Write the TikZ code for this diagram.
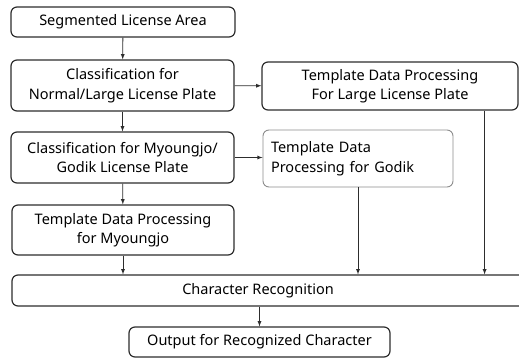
\documentclass[tikz,border=0pt]{standalone}
\usepackage{fontspec}
\setmainfont{Noto Sans}
\usetikzlibrary{arrows}
\usetikzlibrary{calc}
\definecolor{line1}{RGB}{45, 45, 45}
\definecolor{gray1}{RGB}{140, 140, 140}

\begin{document}
\begin{tikzpicture}[x=1pt, y=-1pt, line width =1.2pt, >=latex,
  box/.style={draw=line1, rounded corners=6pt, align=center, inner sep=0pt,
    font=\fontsize{14.5}{19.5}\selectfont},
  link/.style={draw=line1, line width=0.8pt, ->}]
  \useasboundingbox (0,0) rectangle (519,358);
  \clip (0,0) rectangle (519,358);
  \node[box, minimum width=224pt, minimum height=30pt] (seg) at (123,22) {Segmented License Area};
  \node[box, minimum width=223pt, minimum height=51pt] (cls1) at (122.5,85.5) {Classification for\\Normal/Large License Plate};
  \node[box, minimum width=223pt, minimum height=51pt] (cls2) at (122.5,157.5) {Classification for Myoungjo/\\Godik License Plate};
  \node[box, minimum width=222pt, minimum height=50pt] (tmj) at (123,230) {Template Data Processing\\for Myoungjo};

  \node[box, minimum width=256pt, minimum height=48pt] (large) at (390,86) {Template Data Processing\\For Large License Plate};
  \node[box, draw=gray1, line width=0.9pt, align=left, text width=174pt, minimum width=190pt, minimum height=57pt] (godik) at (358,158.5) {Template Data\\Processing for Godik};

  \node[box, minimum width=528pt, minimum height=31pt] (cr) at (276,290.5) {\hspace*{-36pt}Character Recognition};
  \node[box, minimum width=261pt, minimum height=30pt] (out) at (259.5,342) {Output for Recognized Character};

  \foreach \from/\to in {seg/cls1,cls1/cls2,cls2/tmj}
   \draw[link] (\from) -- (\to);
  \draw[link] (tmj) -- (tmj |- cr.north);
  \draw[link] (cls1) -- (large);
  \draw[link] (cls2.east) -- (cls2.east -| godik.west);
  \draw[link] (godik) -- (godik |- cr.north);
  \draw[link] ([xshift=-34pt]large.south east) -- ([xshift=-34pt]large.south east |- cr.north);
  \draw[link] (out |- cr.south) -- (out);
\end{tikzpicture}
\end{document}
